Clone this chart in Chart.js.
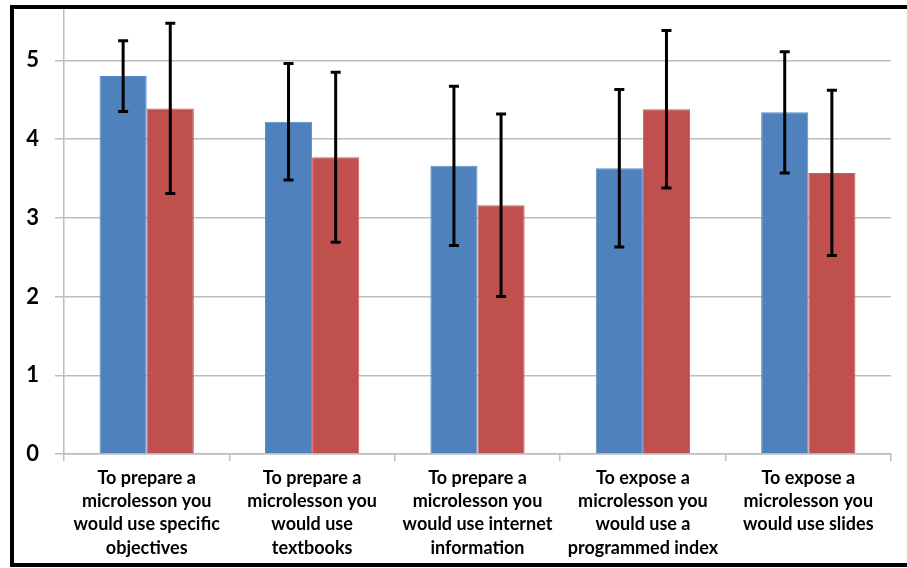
<!DOCTYPE html>
<html>
<head>
<meta charset="utf-8">
<script src="https://cdn.jsdelivr.net/npm/chart.js@4"></script>
<style>
  html, body { margin:0; padding:0; width:907px; height:568px; overflow:hidden; background:#fff; }
  #wrap { position:absolute; left:0; top:-20px; width:907px; height:588px; }
  #frame { position:absolute; left:10px; top:5px; width:1000px; height:554px; border:4px solid #000; pointer-events:none; }
</style>
</head>
<body>
<div id="wrap"><canvas id="c" width="907" height="588"></canvas></div>
<div id="frame"></div>
<script>
const categories = [
  ["To prepare a","microlesson you","would use specific","objectives"],
  ["To prepare a","microlesson you","would use","textbooks"],
  ["To prepare a","microlesson you","would use internet","information"],
  ["To expose a","microlesson you","would use a","programmed index"],
  ["To expose a","microlesson you","would use slides"]
];
const blueValues = [4.80, 4.22, 3.66, 3.63, 4.34];
const blueErrors = [0.45, 0.74, 1.01, 1.00, 0.77];
const redValues  = [4.39, 3.77, 3.16, 4.38, 3.57];
const redErrors  = [1.08, 1.08, 1.16, 1.00, 1.05];
const yTicks = [0, 1, 2, 3, 4, 5];

const errorSets = [blueErrors, redErrors];

const errorBarPlugin = {
  id: 'errorBars',
  afterDatasetsDraw(chart) {
    const ctx = chart.ctx;
    const ys = chart.scales.y;
    ctx.save();
    ctx.strokeStyle = '#000';
    ctx.lineWidth = 3;
    chart.data.datasets.forEach((ds, di) => {
      const meta = chart.getDatasetMeta(di);
      meta.data.forEach((bar, i) => {
        const v = ds.data[i], e = errorSets[di][i];
        const x = bar.x;
        const yt = ys.getPixelForValue(v + e);
        const yb = ys.getPixelForValue(v - e);
        ctx.beginPath();
        ctx.moveTo(x, yt); ctx.lineTo(x, yb);
        ctx.moveTo(x - 5, yt); ctx.lineTo(x + 5, yt);
        ctx.moveTo(x - 5, yb); ctx.lineTo(x + 5, yb);
        ctx.stroke();
      });
    });
    ctx.restore();
  }
};

new Chart(document.getElementById('c'), {
  type: 'bar',
  data: {
    labels: categories,
    datasets: [
      { label: 'A', data: blueValues, backgroundColor: '#4F81BD', borderColor: '#5A8ACB', borderWidth: 1 },
      { label: 'B', data: redValues, backgroundColor: '#C0504D', borderColor: '#CC5C59', borderWidth: 1 }
    ]
  },
  options: {
    responsive: false,
    animation: false,
    devicePixelRatio: 1,
    layout: { padding: { left: 0, right: 16, top: 0, bottom: 0 } },
    plugins: { legend: { display: false }, tooltip: { enabled: false } },
    datasets: { bar: { categoryPercentage: 0.57, barPercentage: 1.0 } },
    scales: {
      x: {
        offset: true,
        grid: { display: true, drawOnChartArea: false, offset: true, tickLength: 7, color: '#BDBDBD', lineWidth: 1.5 },
        border: { display: true, color: '#BDBDBD', width: 1.5 },
        ticks: {
          color: '#000', padding: 5, maxRotation: 0, autoSkip: false,
          font: { family: 'Lato', weight: 'bold', size: 18, lineHeight: 1.3 }
        },
        afterFit(scale) { scale.height = 114; }
      },
      y: {
        min: 0, max: 5.65,
        grid: { color: '#BDBDBD', lineWidth: 1.5, tickLength: 9 },
        border: { display: true, color: '#BDBDBD', width: 1.5 },
        afterBuildTicks(scale) { scale.ticks = yTicks.map(v => ({ value: v })); },
        ticks: {
          color: '#000', padding: 16,
          font: { family: 'Lato', weight: 'bold', size: 22 }
        },
        afterFit(scale) { scale.width = 64; }
      }
    }
  },
  plugins: [errorBarPlugin]
});
</script>
</body>
</html>
